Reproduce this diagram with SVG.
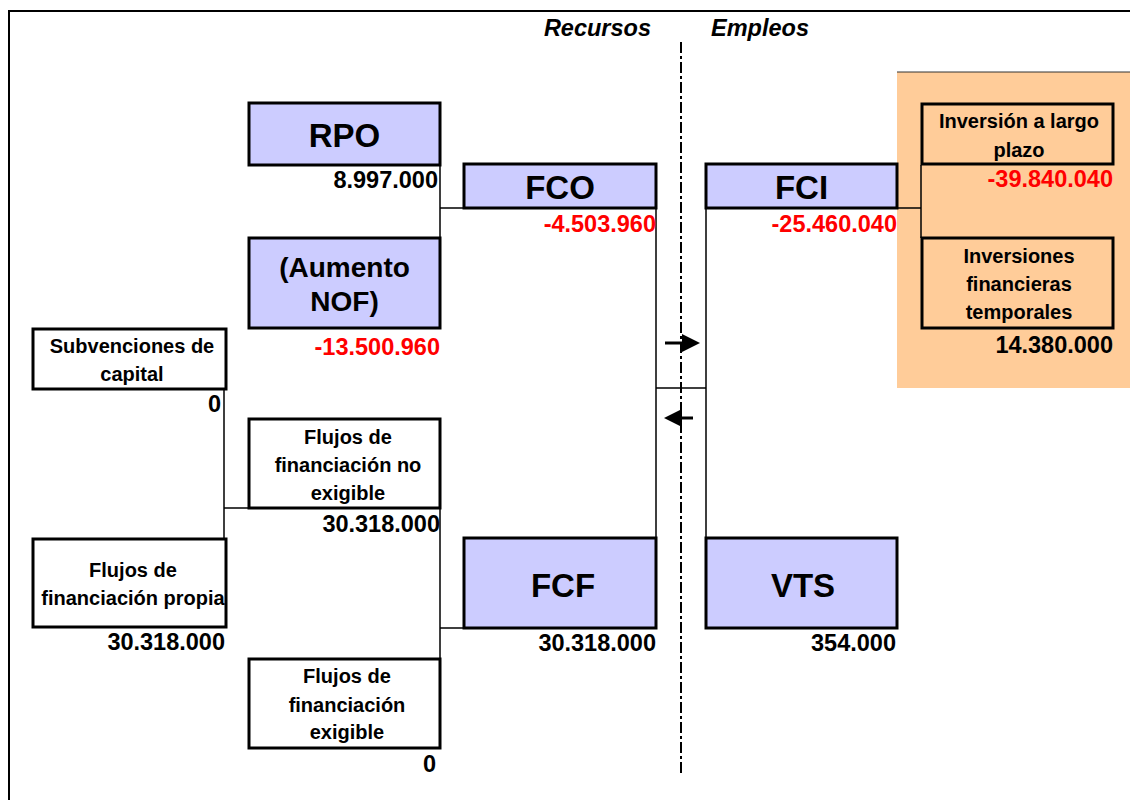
<svg xmlns="http://www.w3.org/2000/svg" width="1130" height="800" viewBox="0 0 1130 800">
<style>
.box{fill:#ccccff;stroke:#000;stroke-width:3}
.wbox{fill:#fff;stroke:#000;stroke-width:3}
.obox{fill:#ffcc99;stroke:#000;stroke-width:3}
.con{fill:none;stroke:#000;stroke-width:1.5}
text{font-family:"Liberation Sans",Arial,sans-serif;font-weight:bold;fill:#000}
.big{font-size:33px;text-anchor:middle}
.mid{font-size:28px;text-anchor:middle}
.lbl{font-size:20px;text-anchor:middle}
.num{font-size:23.5px;text-anchor:end}
.red{fill:#ff0000}
.hdr{font-size:23.5px;font-style:italic}
</style>
<defs>
<marker id="ah" viewBox="0 0 10 10" refX="0" refY="5" markerWidth="18" markerHeight="18" markerUnits="userSpaceOnUse" orient="auto">
<path d="M0,0 L10,5 L0,10 Z" fill="#000"/>
</marker>
</defs>
<rect x="0" y="0" width="1130" height="800" fill="#fff"/>
<rect x="9" y="11" width="1130" height="800" fill="none" stroke="#000" stroke-width="2"/>
<rect x="897" y="72" width="240" height="316" fill="#ffcc99"/>
<line x1="897" y1="72" x2="1130" y2="72" stroke="#333" stroke-width="1"/>

<text class="hdr" x="651" y="36" text-anchor="end">Recursos</text>
<text class="hdr" x="711" y="36">Empleos</text>
<line x1="681" y1="42" x2="681" y2="776" stroke="#000" stroke-width="2" stroke-dasharray="11,3,3,3"/>

<g id="connectors">
<path class="con" d="M440,166 V238 M440,208 H464"/>
<path class="con" d="M656,208 V538 M706,208 V538 M656,388 H706"/>
<path class="con" d="M897,208 H921 M921,165 V238"/>
<path class="con" d="M224,389 V538 M224,508 H249"/>
<path class="con" d="M440,508 V659 M440,628 H464"/>
<line x1="665" y1="343" x2="682" y2="343" stroke="#000" stroke-width="3" marker-end="url(#ah)"/>
<line x1="693" y1="418" x2="682" y2="418" stroke="#000" stroke-width="3" marker-end="url(#ah)"/>
</g>

<g id="rpo">
<rect class="box" x="249" y="103" width="191" height="62"/>
<text class="big" x="344.5" y="147">RPO</text>
<text class="num" x="438" y="188">8.997.000</text>
</g>
<g id="fco">
<rect class="box" x="464" y="164" width="192" height="44"/>
<text class="big" x="560" y="199">FCO</text>
<text class="num red" x="656" y="232">-4.503.960</text>
</g>
<g id="fci">
<rect class="box" x="706" y="164" width="191" height="44"/>
<text class="big" x="801.5" y="199">FCI</text>
<text class="num red" x="897" y="232">-25.460.040</text>
</g>
<g id="inv-largo">
<rect class="obox" x="922" y="104" width="191" height="60"/>
<text class="lbl" x="1019" y="128">Inversión a largo</text>
<text class="lbl" x="1019" y="157">plazo</text>
<text class="num red" x="1113" y="187">-39.840.040</text>
</g>
<g id="inv-temp">
<rect class="obox" x="922" y="238" width="191" height="90"/>
<text class="lbl" x="1019" y="263">Inversiones</text>
<text class="lbl" x="1019" y="291">financieras</text>
<text class="lbl" x="1019" y="319">temporales</text>
<text class="num" x="1113" y="353">14.380.000</text>
</g>
<g id="aumento-nof">
<rect class="box" x="249" y="238" width="191" height="90"/>
<text class="mid" x="344.5" y="277">(Aumento</text>
<text class="mid" x="344.5" y="311">NOF)</text>
<text class="num red" x="440" y="355">-13.500.960</text>
</g>
<g id="subvenciones">
<rect class="wbox" x="33" y="329" width="193" height="60"/>
<text class="lbl" x="132" y="353">Subvenciones de</text>
<text class="lbl" x="132" y="381">capital</text>
<text class="num" x="221" y="412">0</text>
</g>
<g id="no-exigible">
<rect class="wbox" x="249" y="419" width="191" height="89"/>
<text class="lbl" x="348" y="444">Flujos de</text>
<text class="lbl" x="348" y="472">financiación no</text>
<text class="lbl" x="348" y="500">exigible</text>
<text class="num" x="440" y="532">30.318.000</text>
</g>
<g id="propia">
<rect class="wbox" x="33" y="539" width="193" height="88"/>
<text class="lbl" x="133" y="577">Flujos de</text>
<text class="lbl" x="133" y="605">financiación propia</text>
<text class="num" x="225" y="650">30.318.000</text>
</g>
<g id="fcf">
<rect class="box" x="464" y="538" width="192" height="90"/>
<text class="big" x="563" y="597">FCF</text>
<text class="num" x="656" y="651">30.318.000</text>
</g>
<g id="vts">
<rect class="box" x="706" y="538" width="191" height="90"/>
<text class="big" x="803" y="597">VTS</text>
<text class="num" x="896" y="651">354.000</text>
</g>
<g id="exigible">
<rect class="wbox" x="249" y="659" width="191" height="89"/>
<text class="lbl" x="347" y="683">Flujos de</text>
<text class="lbl" x="347" y="712">financiación</text>
<text class="lbl" x="347" y="739">exigible</text>
<text class="num" x="436" y="772">0</text>
</g>
</svg>
